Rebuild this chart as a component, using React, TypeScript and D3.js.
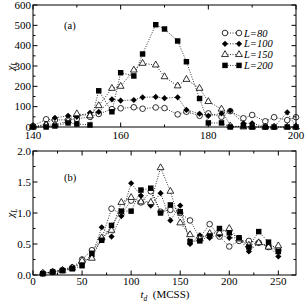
import React, { useEffect, useRef } from 'react'
import * as d3 from 'd3';

// panel (a)
const topX = [140, 143, 145, 148, 150, 153, 155, 158, 160, 163, 165, 168, 170, 173, 175, 178, 180, 183, 185, 188, 190, 193, 195, 198, 200];
const topL80 = [5, 38, 35, 35, 40, 50, 64, 88, 92, 97, 90, 96, 93, 62, 75, 55, 67, 50, 78, 43, 59, 28, 48, 34, 48];
const topL100 = [0, 15, 45, 55, 50, 70, 74, 136, 130, 133, 146, 148, 142, 146, 84, 65, 55, 67, 80, 18, 18, 0, 0, 72, 0];
const topL150 = [0, 10, 10, 30, 65, 55, 105, 190, 200, 280, 313, 305, 247, 202, 234, 190, 125, 88, 5, 0, 0, 0, 0, 0, 0];
const topL200 = [0, 0, 5, 20, 15, 10, 178, 75, 267, 251, 359, 503, 482, 423, 321, 140, 20, 20, 0, 5, 0, 0, 0, 0, 0];

// panel (b)
const botX = [10, 20, 30, 40, 50, 60, 70, 80, 90, 100, 110, 120, 130, 140, 150, 160, 170, 180, 190, 200, 210, 220, 230, 240, 250];
const botL80 = [0.03, 0.05, 0.08, 0.12, 0.25, 0.4, 0.58, 1.07, 0.98, 1.2, 1.17, 1.35, 1.02, 1.05, 1.0, 0.88, 0.6, 0.82, 0.62, 0.46, 0.55, 0.55, 0.52, 0.45, 0.4];
const botL100 = [0.02, 0.05, 0.09, 0.13, 0.18, 0.3, 0.77, 0.62, 0.95, 1.48, 1.28, 1.12, 1.32, 0.88, 1.12, 0.5, 0.64, 0.6, 0.65, 0.6, 0.6, 0.38, 0.52, 0.47, 0.3];
const botL150 = [0.03, 0.05, 0.07, 0.11, 0.23, 0.27, 0.6, 0.72, 1.17, 1.25, 1.18, 1.17, 1.73, 1.35, 0.84, 0.65, 0.58, 0.67, 0.68, 0.75, 0.58, 0.48, 0.52, 0.45, 0.47];
const botL200 = [0.02, 0.05, 0.07, 0.1, 0.15, 0.35, 0.56, 0.8, 1.03, 1.03, 1.37, 1.4, 1.0, 1.13, 1.02, 0.54, 0.55, 0.63, 0.75, 0.68, 0.6, 0.45, 0.7, 0.53, 0.38];

const legendLabels = ['L=80', 'L=100', 'L=150', 'L=200'];
const markers = ['circle', 'diamond', 'triangle', 'square'];

const font = '"Liberation Serif", "DejaVu Serif", serif';

export default function App() {

    const svgRef = useRef<SVGSVGElement>(null);

    const width = 305;
    const height = 303;

    useEffect(() => {
        const svg = d3.select(svgRef.current);
        svg.selectAll('*').remove();

        const topX0 = 33, topX1 = 296;

        const xa = d3.scaleLinear().domain([140, 200]).range([topX0, topX1]);
        const ya = d3.scaleLinear().domain([0, 600]).range([127, 5]);
        drawPanel(svg, xa, ya, [140, 160, 180, 200], [150, 170, 190],
            [0, 100, 200, 300, 400, 500, 600], [50, 150, 250, 350, 450, 550],
            d => d3.format('d')(d), 138.5, '(a)', 25,
            [topL80, topL100, topL150, topL200], topX);

        const xb = d3.scaleLinear().domain([0, 268]).range([topX0, topX1]);
        const yb = d3.scaleLinear().domain([0, 2]).range([275, 151]);
        drawPanel(svg, xb, yb, [0, 50, 100, 150, 200, 250], [25, 75, 125, 175, 225],
            [0, 0.5, 1, 1.5, 2], [0.25, 0.75, 1.25, 1.75],
            d => d3.format('.1f')(d), 285, '(b)', 177,
            [botL80, botL100, botL150, botL200], botX);

        // legend in panel (a)
        const leg = svg.append('g');
        legendLabels.forEach((lab, i) => {
            const ly = 33 + i * 10.8;
            leg.append('line')
                .attr('x1', 225).attr('x2', 239)
                .attr('y1', ly).attr('y2', ly)
                .attr('stroke', '#000').attr('stroke-width', 0.8)
                .attr('stroke-dasharray', '1,1.5');
            drawMarker(leg, markers[i], 225, ly);
            drawMarker(leg, markers[i], 239, ly);
            leg.append('text')
                .attr('x', 244).attr('y', ly + 3.5)
                .style('font-family', font)
                .style('font-size', '10.5px')
                .style('font-style', 'italic')
                .text(lab);
        });

        // axis titles
        const yTitle = (cy: number) => {
            const t = svg.append('text')
                .attr('transform', `translate(14, ${cy}) rotate(-90)`)
                .attr('text-anchor', 'middle')
                .style('font-family', font)
                .style('font-size', '11px');
            t.append('tspan').style('font-style', 'italic').text('χ');
            t.append('tspan').attr('dy', 3).style('font-size', '7.5px').style('font-style', 'italic').text('L');
        };
        yTitle(66);
        yTitle(213);

        const xt = svg.append('text')
            .attr('x', 165).attr('y', 297.5)
            .attr('text-anchor', 'middle')
            .style('font-family', font)
            .style('font-size', '11px');
        xt.append('tspan').style('font-style', 'italic').text('t');
        xt.append('tspan').attr('dy', 3).style('font-size', '7.5px').style('font-style', 'italic').text('d');
        xt.append('tspan').attr('dy', -3).text('\u00a0 (MCSS)');

    }, []);

    const drawMarker = (g, type, cx, cy) => {
        if (type === 'circle') {
            g.append('circle').attr('cx', cx).attr('cy', cy).attr('r', 2.8)
                .attr('fill', '#fff').attr('stroke', '#000').attr('stroke-width', 0.8);
        } else if (type === 'diamond') {
            g.append('path').attr('d', d3.symbol().type(d3.symbolSquare).size(19)())
                .attr('transform', `translate(${cx}, ${cy}) rotate(45)`)
                .attr('fill', '#000');
        } else if (type === 'triangle') {
            g.append('path').attr('d', d3.symbol().type(d3.symbolTriangle).size(20)())
                .attr('transform', `translate(${cx}, ${cy})`)
                .attr('fill', '#fff').attr('stroke', '#000').attr('stroke-width', 0.8);
        } else {
            g.append('path').attr('d', d3.symbol().type(d3.symbolSquare).size(30)())
                .attr('transform', `translate(${cx}, ${cy})`)
                .attr('fill', '#000');
        }
    }

    const drawPanel = (svg, x, y, xMajor, xMinor, yMajor, yMinor, yFmt, xLabY, tag, tagY, series, xs) => {
        const g = svg.append('g');
        const [x0, x1] = x.range();
        const [y0, y1] = y.range();

        // series: dotted line, then symbols
        series.forEach((vals) => {
            const line = d3.line<number>()
                .x((d, j) => x(xs[j]))
                .y(d => y(d));
            g.append('path')
                .attr('d', line(vals))
                .attr('fill', 'none')
                .attr('stroke', '#000')
                .attr('stroke-width', 0.8)
                .attr('stroke-dasharray', '1,1.5');
        });
        series.forEach((vals, i) => {
            vals.forEach((v, j) => drawMarker(g, markers[i], x(xs[j]), y(v)));
        });

        // frame
        g.append('rect')
            .attr('x', x0).attr('y', y1)
            .attr('width', x1 - x0).attr('height', y0 - y1)
            .attr('fill', 'none').attr('stroke', '#000').attr('stroke-width', 1);

        // inward ticks on all four sides
        xMajor.concat(xMinor).forEach(v => {
            const len = xMajor.includes(v) ? 4.5 : 2.5;
            g.append('line').attr('x1', x(v)).attr('x2', x(v)).attr('y1', y0).attr('y2', y0 - len).attr('stroke', '#000');
            g.append('line').attr('x1', x(v)).attr('x2', x(v)).attr('y1', y1).attr('y2', y1 + len).attr('stroke', '#000');
        });
        yMajor.concat(yMinor).forEach(v => {
            const len = yMajor.includes(v) ? 4.5 : 2.5;
            g.append('line').attr('y1', y(v)).attr('y2', y(v)).attr('x1', x0).attr('x2', x0 + len).attr('stroke', '#000');
            g.append('line').attr('y1', y(v)).attr('y2', y(v)).attr('x1', x1).attr('x2', x1 - len).attr('stroke', '#000');
        });

        xMajor.forEach(v => {
            g.append('text').attr('x', x(v)).attr('y', xLabY)
                .attr('text-anchor', 'middle')
                .style('font-family', font).style('font-size', '11px')
                .text(v);
        });
        yMajor.forEach(v => {
            g.append('text').attr('x', x0 - 2).attr('y', y(v) + 3.5)
                .attr('text-anchor', 'end')
                .style('font-family', font).style('font-size', '11px')
                .text(yFmt(v));
        });

        g.append('text').attr('x', 64).attr('y', tagY + 3.5)
            .style('font-family', font).style('font-size', '10.5px')
            .text(tag);
    }

    return (
        <svg ref={svgRef} width={width} height={height}
            style={{ position: 'absolute', left: 0, top: 0, background: '#fff' }}></svg>
    )
}
